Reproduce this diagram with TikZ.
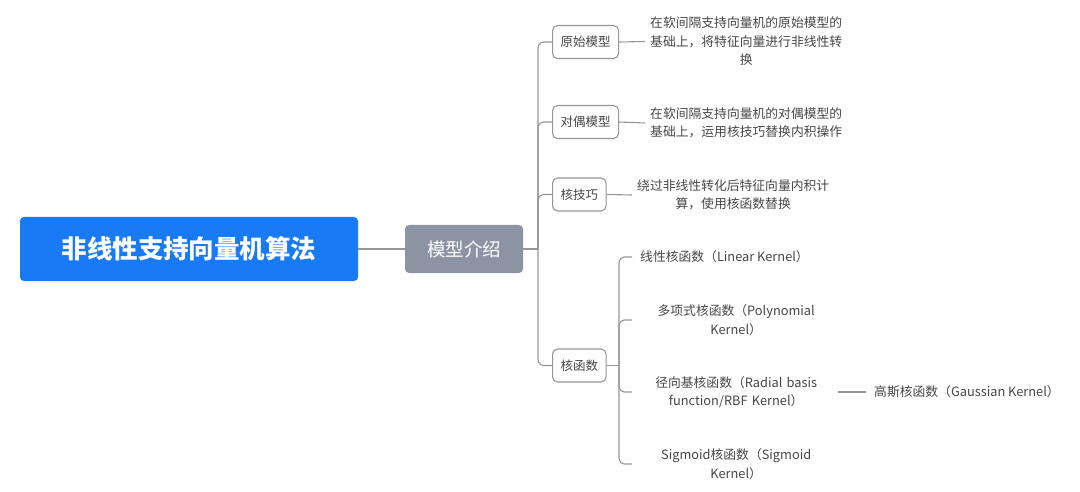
\documentclass[tikz,border=0pt]{standalone}
\usepackage{fontspec}
\setmainfont{Noto Sans CJK SC}
\definecolor{rootblue}{RGB}{24,122,245}
\definecolor{midgray}{RGB}{140,148,163}
\definecolor{linegray}{RGB}{150,150,150}
\definecolor{txtgray}{RGB}{70,70,70}
\begin{document}
\begin{tikzpicture}[x=1pt,y=-1pt,
  conn/.style={draw=linegray,line width=1.1pt},
  branch/.style={conn,rounded corners=6pt},
  rootbox/.style={fill=rootblue,rounded corners=4pt,text=white,minimum width=338pt,minimum height=64pt,font=\fontsize{25.5}{29}\selectfont\bfseries},
  midbox/.style={fill=midgray,rounded corners=4pt,text=white,minimum width=118pt,minimum height=48pt,font=\fontsize{18.5}{22}\selectfont},
  topicbox/.style={draw=linegray,line width=1.1pt,fill=white,rounded corners=5pt,minimum height=33pt,inner xsep=8pt,text=txtgray,font=\fontsize{12.5}{15}\selectfont},
  leaf/.style={anchor=west,inner xsep=5pt,align=center,text=txtgray,font=\fontsize{12.8}{18.5}\selectfont},
  kleaf/.style={leaf,inner xsep=8pt,text width=192pt},
]
\useasboundingbox (0,0) rectangle (1080,492);
\node[rootbox] (root) at (189,249) {非线性支持向量机算法};
\node[midbox] (mid) at (464,249) {模型介绍};
\coordinate (trunk) at (538,249);

\node[topicbox,anchor=west] (a) at (552,42) {原始模型};
\node[topicbox,anchor=west] (b) at (552,122) {对偶模型};
\node[topicbox,anchor=west] (c) at (552,194.5) {核技巧};
\node[topicbox,anchor=west] (d) at (552,365.5) {核函数};

\draw[conn] (root.east) -- (mid.west);
\draw[conn] (mid.east) -- (trunk);
\foreach \n in {a,b,c,d} \draw[branch] (trunk) |- (\n.west);

\node[leaf] (a1) at (645,41.5) {在软间隔支持向量机的原始模型的\\基础上，将特征向量进行非线性转\\换};
\node[leaf] (b1) at (645,123) {在软间隔支持向量机的对偶模型的\\基础上，运用核技巧替换内积操作};
\node[leaf] (c1) at (632,195) {绕过非线性转化后特征向量内积计\\算，使用核函数替换};
\draw[conn] (a.east) -- (a1.west);
\draw[conn] (b.east) -- (b1.west);
\draw[conn] (c.east) -- (c1.west);

\coordinate (kj) at (619,365.5);
\draw[conn] (d.east) -- (kj);
\node[leaf,inner xsep=8pt] (d1) at (632,257) {线性核函数（Linear Kernel）};
\node[kleaf] (d2) at (632,320) {多项式核函数（Polynomial\\Kernel）};
\node[kleaf] (d3) at (632,392) {径向基核函数（Radial basis\\function/RBF Kernel）};
\node[kleaf] (d4) at (632,464) {Sigmoid核函数（Sigmoid\\Kernel）};
\foreach \n in {d1,d2,d3,d4} \draw[branch] (kj) |- (\n.west);

\node[leaf,inner xsep=8pt] (e1) at (866,392) {高斯核函数（Gaussian Kernel）};
\draw[conn] ([xshift=-2pt]d3.east) -- (e1.west);
\end{tikzpicture}
\end{document}
